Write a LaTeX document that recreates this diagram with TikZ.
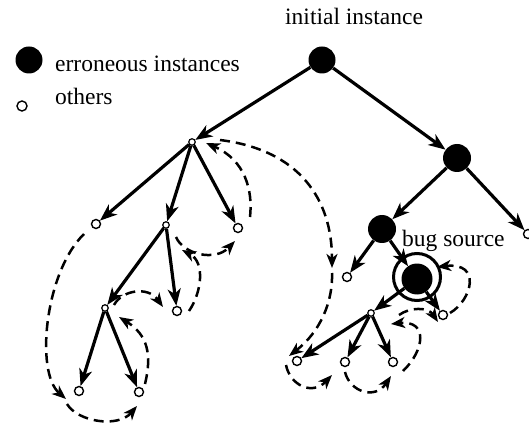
\documentclass[tikz,border=0pt]{standalone}
\usepackage{fontspec}
\setmainfont{Liberation Serif}
\usetikzlibrary{arrows.meta}
\begin{document}
\begin{tikzpicture}[x=1pt,y=-1pt,
  errnode/.style={circle,fill=black,inner sep=0pt,minimum size=27pt},
  oknode/.style={circle,draw,fill=white,line width=1.4pt,inner sep=0pt,minimum size=9pt},
  oktiny/.style={circle,draw,fill=white,line width=1.2pt,inner sep=0pt,minimum size=6.5pt},
  link/.style={line width=3.2pt,-{Stealth[length=17pt,width=13pt,inset=5pt]}},
  trail/.style={line width=2.5pt,dash pattern=on 10pt off 6pt,-{Stealth[length=14pt,width=11pt,inset=4pt]}},
  txt/.style={font=\fontsize{23.5}{28}\selectfont,inner sep=0pt,anchor=base west}
]
\useasboundingbox (0,0) rectangle (529,427);

% legend
\node[errnode] (legerr) at (29,60) {};
\node[oknode,minimum size=10pt] (legok) at (22,106) {};
\node[txt] (legerrtxt) at (55,72) {erroneous instances};
\node[txt] (legoktxt) at (55,105) {others};

% tree nodes
\node[errnode] (root) at (322,60) {};
\node[txt] (roottxt) at (285,25) {initial instance};
\node[oktiny] (A) at (192,142) {};
\node[errnode,minimum size=28pt] (B) at (457,158) {};
\node[oknode] (a1) at (96,224) {};
\node[oktiny] (C) at (166,225) {};
\node[oknode] (a3) at (238,228) {};
\node[oktiny] (D) at (105,308) {};
\node[oknode] (c2) at (177,311) {};
\node[oknode] (d1) at (79,391) {};
\node[oknode] (d2) at (139,392) {};
\node[errnode,minimum size=28pt] (E) at (382,229) {};
\node[oknode] (b2) at (528,234) {};
\node[oknode] (e1) at (347,277) {};
\node[circle,draw,line width=3pt,inner sep=0pt,minimum size=47pt] (ring) at (417,277) {};
\node[errnode,minimum size=31pt] (S) at (417,279) {};
\node[txt] (bugtxt) at (402,247) {bug source};
\node[oktiny] (F) at (371,313) {};
\node[oknode] (s2) at (443,315) {};
\node[oknode] (f1) at (297,361) {};
\node[oknode] (f2) at (345,362) {};
\node[oknode] (f3) at (393,362) {};

% parent-to-child edges
\foreach \p/\c in {root/A,root/B,A/a1,A/C,A/a3,C/D,C/c2,D/d1,D/d2,
                   B/E,B/b2,E/e1,E/S,S/F,S/s2,F/f1,F/f2,F/f3}
  \draw[link] (\p) -- (\c);

% search order (dashed)
\draw[trail] ([shift={(-12,10)}]a1.center) .. controls (45,272) and (35,372) .. ([shift={(-13,8)}]d1.center);
\draw[trail] ([shift={(-12,13)}]d1.center) .. controls (78,422) and (118,428) .. ([shift={(-2,14)}]d2.center);
\draw[trail] ([shift={(6,-8)}]d2.center) .. controls (152,355) and (148,335) .. ([shift={(14,9)}]D.center);
\draw[trail] ([shift={(9,-3)}]D.center) .. controls (122,290) and (148,286) .. ([shift={(-14,-4)}]c2.center);
\draw[trail] ([shift={(12,0)}]c2.center) .. controls (202,292) and (205,262) .. ([shift={(16,25)}]C.center);
\draw[trail] ([shift={(10,12)}]C.center) .. controls (183,254) and (215,262) .. ([shift={(-3,13)}]a3.center);
\draw[trail] ([shift={(12,-11)}]a3.center) .. controls (253,190) and (245,160) .. ([shift={(14,1)}]A.center);
\coordinate (bigmid) at ([shift={(-15,-9)}]e1.center);
\draw[trail] ([shift={(28,-2)}]A.center) .. controls (300,150) and (332,200) .. (bigmid);
\draw[trail] ([shift={(0,5)}]bigmid) .. controls (333,302) and (320,332) .. ([shift={(-8,-5)}]f1.center);
\draw[trail] ([shift={(-11,4)}]f1.center) .. controls (290,385) and (312,396) .. ([shift={(-13,13)}]f2.center);
\draw[trail] ([shift={(0,10)}]f2.center) .. controls (350,392) and (375,400) .. ([shift={(-2,14)}]f3.center);
\draw[trail] ([shift={(10,9)}]f3.center) .. controls (425,350) and (428,320) .. ([shift={(20,11)}]F.center);
\draw[trail] ([shift={(28,2)}]F.center) .. controls (410,307) and (428,307) .. ([shift={(-5,7)}]s2.center);
\draw[trail] ([shift={(7,-2)}]s2.center) .. controls (472,300) and (482,262) .. ([shift={(20,-12)}]S.center);
\end{tikzpicture}
\end{document}
